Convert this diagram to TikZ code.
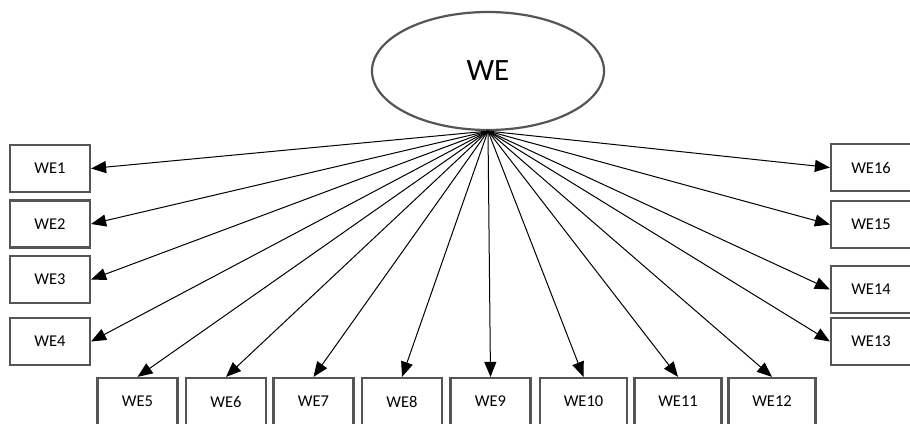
\documentclass[tikz,border=0pt]{standalone}
\usepackage{fontspec}
\setmainfont{Carlito}
\usetikzlibrary{arrows.meta,shapes}
\definecolor{edgegray}{HTML}{555555}

\begin{document}
\begin{tikzpicture}[x = 1pt, y = -1pt,
    item/.style = {draw = edgegray, line width = 2.2pt, minimum width = 80pt, minimum height = 47pt, inner sep = 0pt, font = \fontsize{16.5}{19}\selectfont},
    load/.style = {line width = 1pt, -{Triangle[length = 15pt, width = 12pt]}}]
    \useasboundingbox (0,0) rectangle (910,423);
    % Latent factor
    \node[ellipse, draw = edgegray, line width = 2.2pt, minimum width = 232pt, minimum height = 118pt, inner sep = 0pt, font = \fontsize{31}{36}\selectfont] (we) at (488,71) {WE};
    % Left column
    \node[item] (we1) at (50,168.5) {WE1};
    \node[item] (we2) at (50,224) {WE2};
    \node[item] (we3) at (50,279.5) {WE3};
    \node[item] (we4) at (50,341.5) {WE4};
    % Bottom row
    \node[item] (we5) at (137.5,401.5) {WE5};
    \node[item] (we6) at (226,401.5) {WE6};
    \node[item] (we7) at (313.5,401.5) {WE7};
    \node[item] (we8) at (402,401.5) {WE8};
    \node[item] (we9) at (490.5,401.5) {WE9};
    \node[item, minimum width = 87pt] (we10) at (583.5,401.5) {WE10};
    \node[item, minimum width = 87pt] (we11) at (678,401.5) {WE11};
    \node[item, minimum width = 87pt] (we12) at (772,401.5) {WE12};
    % Right column
    \node[item] (we13) at (871,341.5) {WE13};
    \node[item] (we14) at (871,289.5) {WE14};
    \node[item] (we15) at (871,224.5) {WE15};
    \node[item] (we16) at (871,167.5) {WE16};
    % Loadings
    \draw[load] (we.south) -- (we1.east);
    \draw[load] (we.south) -- (we2.east);
    \draw[load] (we.south) -- (we3.east);
    \draw[load] (we.south) -- (we4.east);
    \draw[load] (we.south) -- (we5.north);
    \draw[load] (we.south) -- (we6.north);
    \draw[load] (we.south) -- (we7.north);
    \draw[load] (we.south) -- (we8.north);
    \draw[load] (we.south) -- (we9.north);
    \draw[load] (we.south) -- (we10.north);
    \draw[load] (we.south) -- (we11.north);
    \draw[load] (we.south) -- (we12.north);
    \draw[load] (we.south) -- (we13.west);
    \draw[load] (we.south) -- (we14.west);
    \draw[load] (we.south) -- (we15.west);
    \draw[load] (we.south) -- (we16.west);
\end{tikzpicture}
\end{document}
